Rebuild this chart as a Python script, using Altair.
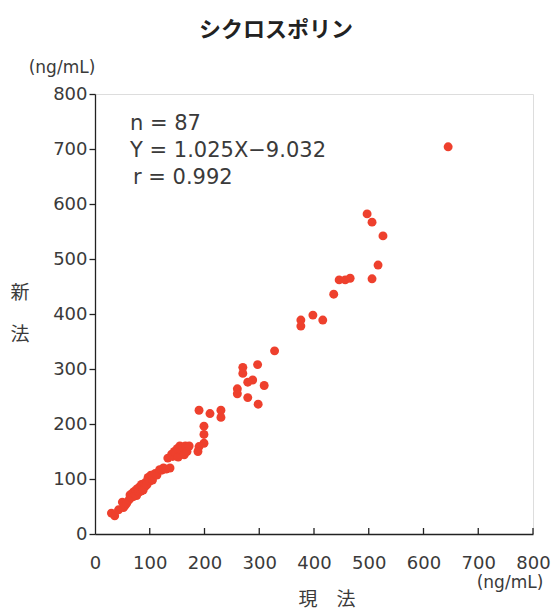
import altair as alt
import pandas as pd

# --- data (現法 x, 新法 y, ng/mL) ---
x_vals = [645,
          497, 506, 526, 517, 506,
          376, 376, 398, 416, 436, 446, 457, 466,
          328, 297, 270, 270, 288, 279, 309, 260, 260, 279, 298,
          190, 210, 230, 230, 199, 199, 199, 190,
          30, 36, 43, 50, 52, 55, 58, 62, 64, 66, 68, 70, 71, 73, 75, 76, 78, 80,
          82, 84, 85, 87, 88, 90, 92, 94, 95, 97, 100, 102, 105, 106, 110, 113,
          118, 122, 125, 130, 133, 137, 140, 142, 145, 148, 150, 152, 155, 157,
          160, 163, 165, 168, 172, 188]
y_vals = [704,
          582, 567, 542, 489, 464,
          389, 378, 398, 389, 436, 462, 462, 465,
          333, 308, 303, 292, 280, 276, 270, 264, 255, 248, 236,
          225, 219, 225, 212, 196, 181, 165, 159,
          38, 33, 44, 58, 48, 52, 56, 62, 71, 66, 74, 68, 77, 72, 80, 70, 83, 76,
          86, 78, 90, 84, 80, 92, 87, 95, 90, 103, 96, 107, 98, 105, 110, 107,
          117, 116, 120, 118, 138, 120, 145, 141, 150, 147, 155, 140, 160, 152,
          158, 144, 160, 150, 160, 150]
tick_values = [0, 100, 200, 300, 400, 500, 600, 700, 800]
inner_ticks = [100, 200, 300, 400, 500, 600, 700, 800]

title_text = "シクロスポリン"
stats_lines = ["n = 87", "Y = 1.025X−9.032", "r = 0.992"]
unit_text = "(ng/mL)"
x_title = "現　法"
y_title_chars = ["新", "法"]

JP = "Noto Sans CJK JP"
NUM = "DejaVu Sans"
TXT = "#3a3a3a"
W, H = 438, 440

pts = pd.DataFrame({"x": x_vals, "y": y_vals})
xscale = alt.Scale(domain=[0, 800], nice=False, zero=False)
yscale = alt.Scale(domain=[0, 800], nice=False, zero=False)

points = alt.Chart(pts).mark_circle(size=80, color="#EE402D", opacity=1).encode(
    x=alt.X("x:Q", scale=xscale, title=None,
            axis=alt.Axis(values=tick_values, tickSize=0, labelPadding=20, grid=False,
                          domainColor="#222", domainWidth=1.3, labelFlush=False,
                          labelFont=NUM, labelFontSize=18, labelColor=TXT)),
    y=alt.Y("y:Q", scale=yscale, title=None,
            axis=alt.Axis(values=tick_values, tickSize=6, tickColor="#222", tickWidth=1.3,
                          labelPadding=2, grid=False, labelFlush=False,
                          domainColor="#222", domainWidth=1.3,
                          labelFont=NUM, labelFontSize=18, labelColor=TXT)),
)

tick_df = pd.DataFrame({"t": inner_ticks})
ticks_in = alt.Chart(tick_df).mark_rule(color="#222", strokeWidth=1.3).encode(
    x=alt.X("t:Q", scale=xscale),
    y=alt.value(H),
    y2=alt.value(H - 6),
)


def txt(s, px, py, font, size, align="center", weight="normal", color=TXT):
    return alt.Chart(pd.DataFrame({"text": [s]})).mark_text(
        align=align, baseline="middle", font=font, fontSize=size,
        fontWeight=weight, color=color
    ).encode(x=alt.value(px), y=alt.value(py), text="text:N")


layers = [points, ticks_in]
# statistics block
layers.append(txt(stats_lines[0], 35, 30, NUM, 21, align="left"))
layers.append(txt(stats_lines[1], 35, 57, NUM, 21, align="left"))
layers.append(txt(stats_lines[2], 38, 84, NUM, 21, align="left"))
# units
layers.append(txt(unit_text, -33, -26, NUM, 17))
layers.append(txt(unit_text, 415, 489, NUM, 17))
# axis titles
layers.append(txt(x_title, 232, 506, JP, 19))
layers.append(txt(y_title_chars[0], -75, 199, JP, 19))
layers.append(txt(y_title_chars[1], -75, 241, JP, 19))
# chart title
layers.append(txt(title_text, 181, -64, JP, 22, weight="bold", color="#222"))

chart = alt.layer(*layers).properties(
    width=W, height=H,
    autosize=alt.AutoSizeParams(type="none"),
    padding={"left": 95, "top": 94, "right": 20, "bottom": 76},
).configure_view(strokeWidth=0, stroke="transparent").configure(background="white")

chart.save("out.html", embed_options={"renderer": "svg", "actions": False})
